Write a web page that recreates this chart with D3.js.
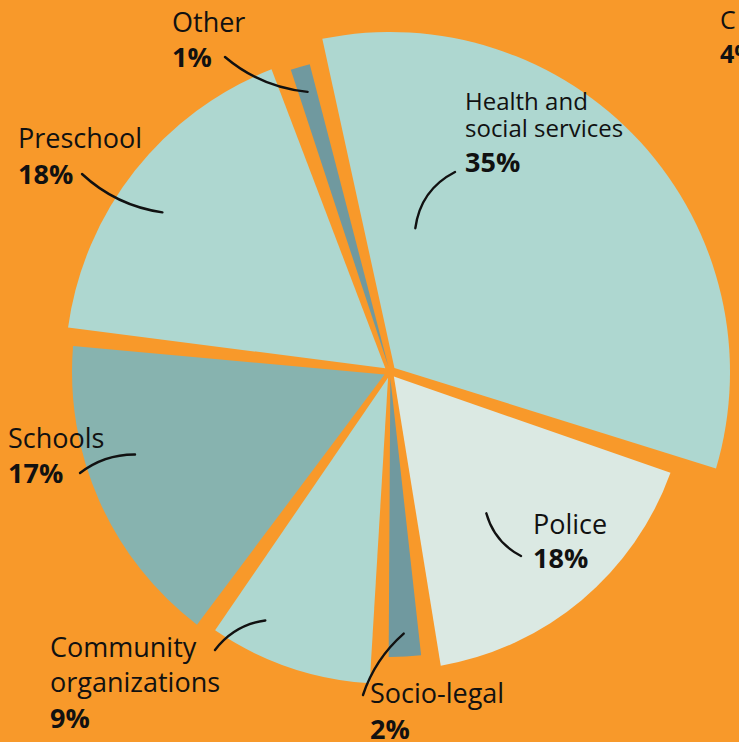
<!DOCTYPE html>
<html>
<head>
<meta charset="utf-8">
<script src="https://cdn.jsdelivr.net/npm/d3@7"></script>
<style>
  html, body { margin: 0; padding: 0; background: #F8992A; overflow: hidden; }
  svg { display: block; }
  text { font-family: "Open Sans", Lato, "Noto Sans", sans-serif; fill: #111; }
</style>
</head>
<body>
<svg id="chart" width="739" height="742"></svg>
<script>
// ---- data ----
const categories = ["Health and social services", "Police", "Socio-legal", "Community organizations", "Schools", "Preschool", "Other"];
const values = [35, 18, 2, 9, 17, 18, 1];
const valueLabels = ["35%", "18%", "2%", "9%", "17%", "18%", "1%"];
const labelLines = [["Health and", "social services"], ["Police"], ["Socio-legal"], ["Community", "organizations"], ["Schools"], ["Preschool"], ["Other"]];

// ---- style / layout ----
const colors = ["#AED7D0", "#DBE9E3", "#70999F", "#AED7D0", "#87B3AF", "#AED7D0", "#70999F"];
const outerR = [340, 298, 285, 312, 318, 325, 318];
const cx = 390, cy = 372;
const deg = Math.PI / 180;
// label layout: x, first baseline, font size, line gap, gap to bold line, leader start, leader end (fraction of slice angle, radius), bend
const labelLayout = [
  { x: 465, y: 110, fs: 24, lg: 27, bg: 35, sx: 455, sy: 172, f: 0.19, r: 146, bend: 9 },
  { x: 533, y: 534, fs: 27, lg: 26, bg: 34, sx: 521, sy: 556, f: 0.59, r: 171, bend: -6 },
  { x: 370, y: 703, fs: 27, lg: 26, bg: 36, sx: 363, sy: 695, f: 0.5, r: 262, bend: -5 },
  { x: 50, y: 657, fs: 27, lg: 35, bg: 36, sx: 215, sy: 650, f: 0.73, r: 278, bend: -6 },
  { x: 8, y: 448, fs: 27, lg: 26, bg: 35, sx: 80, sy: 473, f: 0.6, r: 268, bend: -5 },
  { x: 18, y: 148, fs: 27, lg: 26, bg: 36, sx: 82, sy: 174, f: 0.45, r: 278, bend: 7 },
  { x: 172, y: 32, fs: 27, lg: 26, bg: 35, sx: 225, sy: 57, f: 0.5, r: 292, bend: 7 }
];

const svg = d3.select("#chart");
svg.append("rect").attr("width", 739).attr("height", 742).attr("fill", "#F8992A");

const pie = d3.pie().sort(null).value(d => d).startAngle(-13 * deg).endAngle(347 * deg).padAngle(0.06);
const arcs = pie(values);

const arcGen = d3.arc()
  .innerRadius(6)
  .outerRadius(d => outerR[d.index])
  .padRadius(300)
  .padAngle(d => d.padAngle);

const g = svg.append("g").attr("transform", `translate(${cx},${cy})`);
g.selectAll("path.slice").data(arcs).join("path")
  .attr("class", "slice")
  .attr("d", arcGen)
  .attr("fill", d => colors[d.index]);

// leader lines
const lines = svg.append("g");
arcs.forEach((d, i) => {
  const L = labelLayout[i];
  const a = d.startAngle + L.f * (d.endAngle - d.startAngle);
  const ex = cx + L.r * Math.sin(a), ey = cy - L.r * Math.cos(a);
  const mx = (L.sx + ex) / 2, my = (L.sy + ey) / 2;
  const dx = ex - L.sx, dy = ey - L.sy, len = Math.hypot(dx, dy);
  const nx = -dy / len, ny = dx / len;
  const p = d3.path();
  p.moveTo(L.sx, L.sy);
  p.quadraticCurveTo(mx + nx * L.bend * 2, my + ny * L.bend * 2, ex, ey);
  lines.append("path").attr("d", p.toString()).attr("fill", "none")
    .attr("stroke", "#111").attr("stroke-width", 2.4).attr("stroke-linecap", "round");
});

// labels
const labels = svg.append("g");
categories.forEach((c, i) => {
  const L = labelLayout[i];
  const t = labels.append("text").attr("x", L.x).attr("y", L.y);
  labelLines[i].forEach((ln, j) => {
    t.append("tspan").attr("x", L.x).attr("y", L.y + j * L.lg)
      .attr("font-size", L.fs).attr("font-weight", 400).text(ln);
  });
  t.append("tspan").attr("x", L.x).attr("y", L.y + (labelLines[i].length - 1) * L.lg + L.bg)
    .attr("font-size", 27).attr("font-weight", 700).text(valueLabels[i]);
});

// partially visible neighbouring label at the right edge
svg.append("text").attr("x", 720).attr("y", 29).attr("font-size", 25).text("C");
svg.append("text").attr("x", 720).attr("y", 63).attr("font-size", 25).attr("font-weight", 700).text("4%");
</script>
</body>
</html>
